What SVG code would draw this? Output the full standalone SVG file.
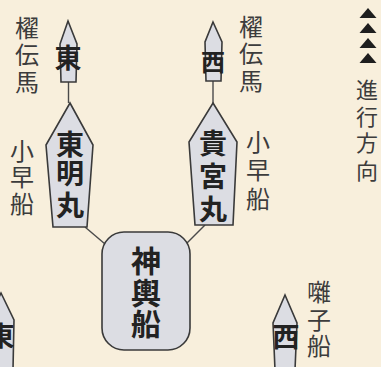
<svg xmlns="http://www.w3.org/2000/svg" width="381" height="367" viewBox="0 0 381 367">
<style>
.boat{fill:#dcdde3;stroke:#3a3a3a;stroke-width:1.6;stroke-linejoin:miter}
.conn{stroke:#4a4a4a;stroke-width:1.4;fill:none}
.name{font-family:"Noto Sans CJK JP","Noto Sans CJK SC",sans-serif;font-weight:bold;fill:#222;text-anchor:middle}
.lbl{font-family:"Noto Sans CJK JP","Noto Sans CJK SC",sans-serif;fill:#3c3c3c;text-anchor:middle}
.tri{fill:#1e1e1e}
</style>
<rect width="381" height="367" fill="#f8efdc"/>
<g id="connectors">
<line class="conn" x1="68.5" y1="82" x2="68.5" y2="103"/>
<line class="conn" x1="213" y1="81" x2="213" y2="103"/>
<line class="conn" x1="85" y1="227" x2="105" y2="244"/>
<line class="conn" x1="187" y1="243" x2="205" y2="225"/>
</g>
<g id="kaiden-east">
<path class="boat" d="M68,21 L77,44 L76,82 L61,82 L60,44 Z"/>
<text class="name" x="68" y="68" font-size="27">東</text>
</g>
<g id="kaiden-west">
<path class="boat" d="M213,22 L222,42 L221,81 L206,81 L205,42 Z"/>
<text class="name" x="213" y="71" font-size="24">西</text>
</g>
<g id="tomei-maru">
<path class="boat" d="M70,103 L93,145 L87,227 L53,227 L46,145 Z"/>
<text class="name" font-size="28"><tspan x="70" y="155">東</tspan><tspan x="70" y="184">明</tspan><tspan x="70" y="216">丸</tspan></text>
</g>
<g id="kinomiya-maru">
<path class="boat" d="M213,103 L237,142 L233,225 L195,225 L189,142 Z"/>
<text class="name" font-size="28"><tspan x="213" y="154">貴</tspan><tspan x="213" y="187">宮</tspan><tspan x="213" y="220">丸</tspan></text>
</g>
<g id="mikoshi-bune">
<rect class="boat" x="102" y="232" width="88" height="118" rx="22" ry="22"/>
<text class="name" font-size="30"><tspan x="146" y="272">神</tspan><tspan x="146" y="304">輿</tspan><tspan x="146" y="335">船</tspan></text>
</g>
<g id="hayashi-west">
<path class="boat" d="M285,295 L297,323 L295,370 L275,370 L273,323 Z"/>
<text class="name" x="286" y="347" font-size="27">西</text>
</g>
<g id="hayashi-east">
<path class="boat" d="M1,293 L14,320 L13,370 L-11,370 L-12,320 Z"/>
<text class="name" x="1" y="346" font-size="27">東</text>
</g>
<g id="labels">
<text class="lbl" font-size="24"><tspan x="27" y="37">櫂</tspan><tspan x="27" y="64">伝</tspan><tspan x="27" y="91">馬</tspan></text>
<text class="lbl" font-size="24"><tspan x="22" y="160">小</tspan><tspan x="22" y="186">早</tspan><tspan x="22" y="213">船</tspan></text>
<text class="lbl" font-size="24"><tspan x="251" y="36">櫂</tspan><tspan x="251" y="63">伝</tspan><tspan x="251" y="90">馬</tspan></text>
<text class="lbl" font-size="24"><tspan x="258" y="151">小</tspan><tspan x="258" y="179">早</tspan><tspan x="258" y="208">船</tspan></text>
<text class="lbl" font-size="24"><tspan x="319" y="301">囃</tspan><tspan x="319" y="329">子</tspan><tspan x="319" y="355">船</tspan></text>
</g>
<g id="direction">
<path class="tri" d="M368,8 L376.5,18 L359.5,18 Z"/>
<path class="tri" d="M368,23 L376.5,33 L359.5,33 Z"/>
<path class="tri" d="M368,38 L376.5,48 L359.5,48 Z"/>
<path class="tri" d="M368,53 L376.5,63 L359.5,63 Z"/>
<text class="lbl" font-size="22"><tspan x="367" y="98">進</tspan><tspan x="367" y="125">行</tspan><tspan x="367" y="151">方</tspan><tspan x="367" y="179">向</tspan></text>
</g>
</svg>
